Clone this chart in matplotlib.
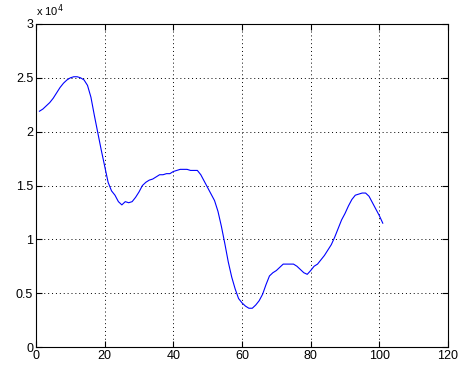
import matplotlib
matplotlib.use('Agg')
import matplotlib.pyplot as plt

# sample index and signal value (in units of 1e4)
x = list(range(1, 102))
y_1e4 = [2.19, 2.21, 2.24, 2.27, 2.31, 2.36, 2.41, 2.45, 2.48, 2.50,
         2.51, 2.51, 2.50, 2.48, 2.43, 2.32, 2.15, 1.99, 1.83, 1.68,
         1.53, 1.45, 1.41, 1.35, 1.32, 1.35, 1.34, 1.35, 1.39, 1.44,
         1.50, 1.53, 1.55, 1.56, 1.58, 1.60, 1.60, 1.61, 1.61, 1.63,
         1.64, 1.65, 1.65, 1.65, 1.64, 1.64, 1.64, 1.60, 1.54, 1.48,
         1.42, 1.36, 1.26, 1.12, 0.96, 0.79, 0.65, 0.54, 0.45, 0.41,
         0.38, 0.36, 0.36, 0.39, 0.43, 0.49, 0.58, 0.66, 0.69, 0.71,
         0.74, 0.77, 0.77, 0.77, 0.77, 0.75, 0.72, 0.69, 0.675, 0.71,
         0.75, 0.77, 0.81, 0.85, 0.90, 0.95, 1.02, 1.10, 1.18, 1.24,
         1.31, 1.37, 1.41, 1.42, 1.43, 1.43, 1.40, 1.34, 1.28, 1.22,
         1.15]
y = [v * 1e4 for v in y_1e4]

xticks = [0, 20, 40, 60, 80, 100, 120]
yticks = [0, 5000, 10000, 15000, 20000, 25000, 30000]
ytick_labels = ['0', '0.5', '1', '1.5', '2', '2.5', '3']

plt.rcParams['font.family'] = ['Liberation Sans', 'DejaVu Sans']

fig = plt.figure(figsize=(4.63, 3.71), dpi=100)
ax = fig.add_axes([36 / 463, 24 / 371, 412 / 463, 323 / 371])

ax.plot(x, y, color='#0000ff', linewidth=0.8)

ax.set_xlim(0, 120)
ax.set_ylim(0, 30000)
ax.set_xticks(xticks)
ax.set_xticklabels([str(t) for t in xticks])
ax.set_yticks(yticks)
ax.set_yticklabels(ytick_labels)

ax.grid(True, color='black', linestyle=(0, (1, 3)), linewidth=0.7)
ax.tick_params(direction='in', top=True, right=True, length=4,
               labelsize=9, pad=2, width=0.8)
for s in ax.spines.values():
    s.set_linewidth(0.8)

fig.text(36 / 463, 1 - 16 / 371, r'x 10$^{4}$', fontsize=8, ha='left', va='baseline')

fig.savefig('out.png', dpi=100)
